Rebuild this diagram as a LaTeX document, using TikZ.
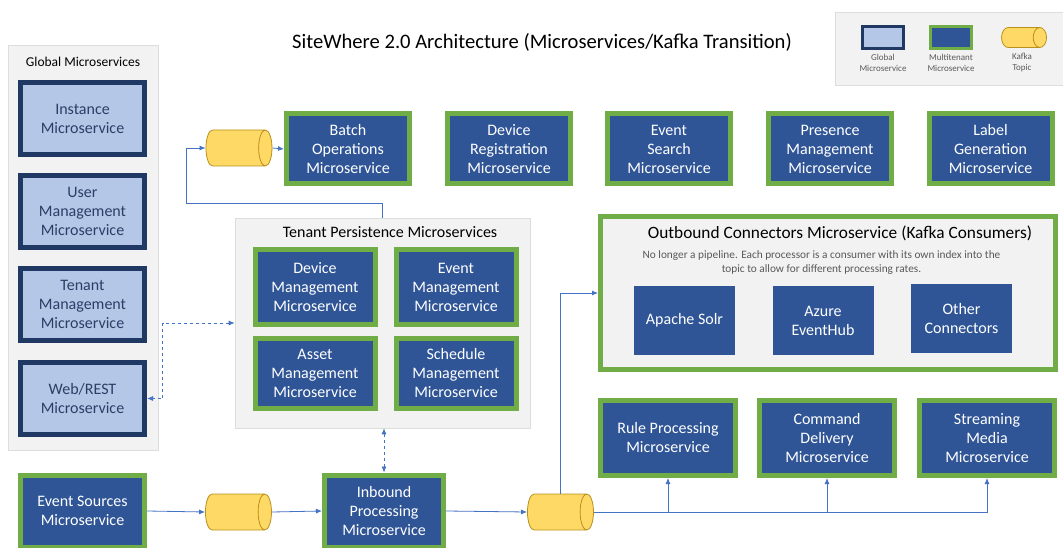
\documentclass[tikz,border=0pt]{standalone}
\usepackage{fontspec}
\setmainfont{Carlito}
\usetikzlibrary{arrows.meta,shapes.geometric}
\definecolor{panelgray}{HTML}{F2F2F2}
\definecolor{panelline}{HTML}{DDDDDD}
\definecolor{leaf}{HTML}{70AD47}
\definecolor{deepblue}{HTML}{2F5597}
\definecolor{paleblue}{HTML}{B4C7E7}
\definecolor{navy}{HTML}{1F3864}
\definecolor{navytext}{HTML}{2C3E66}
\definecolor{sun}{HTML}{FFD966}
\definecolor{gold}{HTML}{B8901A}
\definecolor{link}{HTML}{4472C4}
\definecolor{note}{HTML}{595959}
\newcommand{\boxfont}{\fontsize{16}{19}\selectfont}
\tikzset{
    >={Latex[length=6pt,width=5pt]},
    sw/.style={
        panel/.append style={draw=panelline,fill=panelgray,line width=0.6pt,inner sep=0pt},
        global/.append style={draw=navy,line width=5pt,fill=paleblue,text=navytext,align=center,minimum width=124pt,minimum height=72pt,font=\boxfont},
        tenant/.append style={draw=leaf,line width=5pt,fill=deepblue,text=white,align=center,minimum width=123pt,minimum height=70pt,font=\boxfont},
        plain/.append style={fill=deepblue,text=white,align=center,minimum width=101pt,minimum height=69pt,font=\boxfont},
        kafka/.append style={cylinder,draw=gold,fill=sun,line width=0.8pt,minimum height=66pt,minimum width=36pt,shape aspect=2},
        caption/.append style={align=center,font=\fontsize{9}{11}\selectfont,text=note},
        flow/.append style={draw=link,line width=0.8pt,->},
        dflow/.append style={draw=link,line width=0.8pt,dashed,<->}
    }
}

\begin{document}
\begin{tikzpicture}[sw,x=1pt,y=-1pt]
    \useasboundingbox (0,0) rectangle (1063,548);

    \node[font=\fontsize{20.6}{24}\selectfont] (title) at (542,42) {SiteWhere 2.0 Architecture (Microservices/Kafka Transition)};

    % legend
    \node[panel,minimum width=228pt,minimum height=73pt] (legend) at (949,48.5) {};
    \node[global,line width=3pt,minimum width=41pt,minimum height=22pt] (lglobal) at (883,37.5) {};
    \node[tenant,line width=3pt,minimum width=41pt,minimum height=22pt] (ltenant) at (951,37.5) {};
    \node[kafka,minimum height=45pt,minimum width=20pt] (lkafka) at (1018,37.5) {};
    \node[caption] at (883,62.5) {Global\\Microservice};
    \node[caption] at (951,62.5) {Multitenant\\Microservice};
    \node[caption] at (1022,62.5) {Kafka\\Topic};

    % global microservices
    \node[panel,minimum width=150pt,minimum height=405pt] (gp) at (83,247.5) {};
    \node[font=\fontsize{13.5}{16}\selectfont] at (83,62) {Global Microservices};
    \node[global] (inst) at (82.5,118.5) {Instance\\Microservice};
    \node[global] (user) at (82.5,211.5) {User\\Management\\Microservice};
    \node[global] (tman) at (82.5,304.5) {Tenant\\Management\\Microservice};
    \node[global] (web) at (82.5,398.5) {Web/REST\\Microservice};

    % top row
    \node[kafka] (k1) at (233.5,148) {};
    \node[tenant] (batch) at (348,149) {Batch\\Operations\\Microservice};
    \node[tenant] (devreg) at (509,149) {Device\\Registration\\Microservice};
    \node[tenant] (evsearch) at (669,149) {Event\\Search\\Microservice};
    \node[tenant] (presence) at (830,149) {Presence\\Management\\Microservice};
    \node[tenant] (label) at (990.5,149) {Label\\Generation\\Microservice};

    % tenant persistence
    \node[panel,minimum width=295pt,minimum height=210pt] (tp) at (382.5,323) {};
    \node[font=\fontsize{16}{18}\selectfont] at (390,232) {Tenant Persistence Microservices};
    \node[tenant,minimum width=120pt,minimum height=74pt] (dm) at (315,287) {Device\\Management\\Microservice};
    \node[tenant,minimum width=120pt,minimum height=74pt] (em) at (456,287) {Event\\Management\\Microservice};
    \node[tenant,minimum width=120pt,minimum height=70pt] (am) at (315,373.5) {Asset\\Management\\Microservice};
    \node[tenant,minimum width=120pt,minimum height=70pt] (sm) at (456,373.5) {Schedule\\Management\\Microservice};

    % outbound connectors
    \node[tenant,fill=panelgray,minimum width=455pt,minimum height=153pt] (ob) at (828,293) {};
    \node[font=\fontsize{17.3}{20}\selectfont] at (840,233) {Outbound Connectors Microservice (Kafka Consumers)};
    \node[align=center,text=note,font=\fontsize{11.3}{14}\selectfont] at (821.5,263) {No longer a pipeline. Each processor is a consumer with its own index into the\\topic to allow for different processing rates.};
    \node[plain] (solr) at (684.5,320.5) {Apache Solr};
    \node[plain] (azure) at (823,320.5) {Azure\\EventHub};
    \node[plain] (other) at (961.5,318.5) {Other\\Connectors};

    % event flow
    \node[tenant,minimum width=124pt,minimum height=72pt] (src) at (82.5,511) {Event Sources\\Microservice};
    \node[kafka] (k2) at (233,512) {};
    \node[tenant,minimum width=119pt,minimum height=72pt] (inbound) at (384,511) {Inbound\\Processing\\Microservice};
    \node[kafka] (k3) at (555,512) {};
    \node[tenant,minimum width=135pt,minimum height=75pt] (rule) at (668,438) {Rule Processing\\Microservice};
    \node[tenant,minimum width=135pt,minimum height=75pt] (cmd) at (827,438) {Command\\Delivery\\Microservice};
    \node[tenant,minimum width=135pt,minimum height=75pt] (stream) at (987,438) {Streaming\\Media\\Microservice};

    \coordinate (loop) at (186,203);
    \draw[flow] (tp.north) |- (loop) |- (k1.west);
    \draw[flow] (k1.east) -- (batch.west);
    \draw[dflow] (tp.west) -- ++(-72,0) |- (web.east);
    \draw[dflow] (tp.south -| inbound.north) -- (inbound.north);
    \draw[flow] (src.east) -- (k2.west);
    \draw[flow] (k2.east) -- (inbound.west);
    \draw[flow] (inbound.east) -- (k3.west);
    \draw[flow] ([xshift=5pt]k3.north) |- (ob.west);
    \draw[flow] (k3.east) -| (stream.south);
    \draw[flow] (k3.east -| rule.south) -- (rule.south);
    \draw[flow] (k3.east -| cmd.south) -- (cmd.south);
\end{tikzpicture}
\end{document}
